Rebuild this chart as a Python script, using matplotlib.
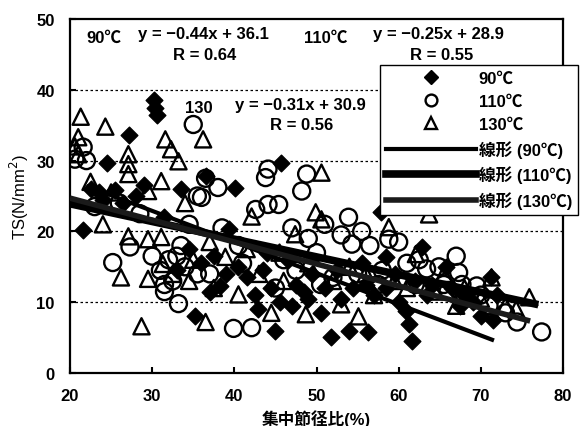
import matplotlib
matplotlib.use("Agg")
import matplotlib.pyplot as plt
from matplotlib.lines import Line2D
import numpy as np

plt.rcParams['font.family'] = ['Liberation Sans', 'Noto Sans CJK JP', 'DejaVu Sans']

# 90℃ specimens (集中節径比 %, TS N/mm2)
x90 = [21.6, 22.5, 23.5, 24.5, 24.0, 25.5, 26.5, 27.2, 28.0, 29.0, 30.2, 30.4, 30.6,
       31.5, 33.5, 34.5, 35.2, 36.5, 37.0, 37.5, 38.3, 39.3, 40.1, 40.5, 41.5, 42.5,
       42.9, 43.5, 44.5, 45.0, 45.5, 45.7, 46.5, 47.5, 48.5, 49.5, 50.5, 51.0, 51.8,
       52.5, 53.9, 54.5, 55.5, 56.3, 57.0, 57.8, 58.4, 59.5, 60.9, 61.2, 61.6, 62.0,
       62.8, 63.5, 65.7, 66.5, 67.5, 69.0, 70.0, 71.2, 71.5, 72.0,
       33.0, 36.0, 39.0, 44.0, 47.0, 49.0, 53.0, 56.0, 58.5, 60.0, 64.0, 68.0]
y90 = [20.2, 26.0, 25.5, 29.6, 24.5, 25.8, 24.0, 33.6, 25.0, 26.5, 38.5, 37.5, 36.5,
       22.0, 26.0, 17.5, 8.0, 27.8, 11.4, 16.5, 12.3, 20.3, 26.2, 15.0, 13.5, 11.0,
       9.0, 14.5, 12.0, 6.0, 10.0, 29.6, 16.0, 12.5, 11.5, 14.0, 8.5, 12.0, 5.1,
       14.5, 5.9, 12.0, 15.5, 5.8, 11.0, 22.7, 16.4, 14.0, 8.7, 6.9, 4.5, 13.0,
       17.8, 11.0, 15.0, 12.0, 9.5, 10.0, 8.0, 13.5, 7.5, 11.0,
       14.5, 15.5, 14.0, 17.0, 9.5, 10.5, 10.5, 12.5, 12.0, 10.0, 12.5, 11.0]

# 110℃ specimens
x110 = [20.6, 21.6, 22.0, 23.0, 25.2, 26.0, 27.3, 28.5, 30.0, 31.0, 31.5, 32.0, 32.5,
        33.2, 33.5, 34.0, 34.5, 35.0, 35.5, 36.0, 36.5, 37.0, 38.0, 38.5, 39.9, 40.5,
        42.1, 42.6, 43.8, 44.1, 44.1, 45.4, 46.0, 47.0, 48.2, 48.8, 49.0, 50.0, 51.0,
        52.0, 53.0, 53.9, 54.3, 55.0, 56.5, 57.5, 58.8, 60.0, 61.0, 62.0, 63.4, 64.9,
        66.0, 67.0, 67.3, 67.7, 67.6, 69.5, 71.0, 73.0, 74.4, 77.4,
        31.5, 33.0, 35.5, 41.0, 45.0, 47.5, 50.5, 55.5, 58.0, 62.5, 65.5, 70.0]
y110 = [30.2, 31.9, 30.0, 23.5, 15.6, 24.0, 17.8, 22.5, 16.5, 14.5, 11.5, 16.0, 13.0,
        9.8, 18.0, 15.0, 21.0, 35.1, 25.0, 24.8, 27.5, 14.0, 26.2, 20.5, 6.3, 18.0,
        6.4, 23.1, 27.6, 28.8, 23.8, 23.8, 16.0, 20.5, 25.7, 28.1, 19.0, 17.0, 21.0,
        13.5, 19.5, 22.0, 18.2, 14.0, 18.0, 12.5, 18.9, 18.5, 15.5, 12.5, 14.7, 15.0,
        11.5, 16.5, 14.2, 12.5, 11.1, 12.3, 9.5, 8.5, 7.2, 5.8,
        12.5, 16.5, 14.0, 15.5, 12.0, 14.5, 12.5, 20.0, 14.5, 16.0, 12.5, 11.0]

# 130℃ specimens
x130 = [20.6, 21.0, 21.0, 21.3, 22.5, 24.0, 24.3, 25.0, 26.2, 27.1, 27.1, 27.1, 27.1,
        28.7, 29.5, 29.5, 29.5, 31.1, 31.1, 31.3, 31.6, 32.3, 33.2, 34.0, 35.0, 36.2,
        36.5, 37.0, 38.9, 40.5, 42.1, 43.0, 44.5, 45.5, 47.4, 48.7, 49.9, 50.6, 50.6,
        52.0, 53.0, 55.1, 56.0, 58.8, 59.5, 62.1, 63.7, 64.5, 65.5, 68.0, 70.0, 71.3,
        73.0, 74.3, 75.9,
        32.5, 34.5, 37.5, 41.5, 46.0, 49.0, 54.0, 57.0, 61.0, 67.0]
y130 = [32.0, 33.3, 30.9, 36.2, 27.0, 21.0, 34.8, 25.5, 13.5, 30.9, 29.5, 28.1, 19.3,
        6.6, 25.7, 18.9, 13.3, 27.1, 19.2, 15.4, 33.0, 31.6, 29.9, 24.0, 16.0, 33.0,
        7.2, 18.5, 16.4, 11.1, 22.1, 14.0, 8.5, 17.0, 19.6, 8.3, 22.7, 28.3, 21.7,
        13.0, 9.7, 8.0, 14.0, 20.6, 13.0, 16.8, 22.4, 11.5, 14.0, 12.0, 10.5, 13.5,
        9.5, 9.0, 10.7,
        14.0, 13.0, 12.0, 17.5, 13.0, 15.5, 15.0, 11.0, 12.0, 9.5]

# linear fits (slope, intercept, x-range)
fit90 = (-0.44, 36.1, 22.0, 71.6)
fit110 = (-0.25, 28.9, 20.0, 77.0)
fit130 = (-0.31, 30.9, 20.0, 76.0)

x_ticks = [20, 30, 40, 50, 60, 70, 80]
y_ticks = [0, 10, 20, 30, 40, 50]

fig = plt.figure(figsize=(5.86, 4.27), dpi=100)
ax = fig.add_axes([70/586, 1-374/427, (563-70)/586, (374-20)/427])

ax.set_xlim(20, 80)
ax.set_ylim(0, 50)

for yv in [10, 20, 30, 40]:
    ax.axhline(yv, color='black', lw=0.9, ls=(0, (2, 2)), zorder=0)

ax.scatter(x90, y90, marker='D', s=72, facecolor='black', edgecolor='black', lw=1, zorder=3)
ax.scatter(x110, y110, marker='o', s=150, facecolor='none', edgecolor='black', lw=1.7, zorder=3)
ax.scatter(x130, y130, marker='^', s=135, facecolor='none', edgecolor='black', lw=1.7, zorder=3)

def draw_fit(fit, lw, color):
    a, b, x0, x1 = fit
    xs = np.array([x0, x1])
    ax.plot(xs, a * xs + b, color=color, lw=lw, solid_capstyle='butt', zorder=4)

draw_fit(fit90, 3.0, 'black')
draw_fit(fit110, 5.5, 'black')
draw_fit(fit130, 4.0, '#1a1a1a')

ax.set_xticks(x_ticks)
ax.set_yticks(y_ticks)
ax.tick_params(direction='in', length=4, width=1.5, labelsize=12, pad=11)
for lab in ax.get_xticklabels() + ax.get_yticklabels():
    lab.set_fontweight('bold')
for sp in ax.spines.values():
    sp.set_linewidth(1.6)

ax.set_ylabel('TS(N/mm$^2$)', fontsize=12, labelpad=4)
ax.set_xlabel('集中節径比(%)', fontsize=12, fontweight='bold', labelpad=4)

tk = dict(transform=fig.transFigure, fontsize=12, fontweight='bold', color='black')
fig.text(86/586, 1-43/427, '90℃', **tk)
fig.text(138/586, 1-39/427, 'y = −0.44x + 36.1', **tk)
fig.text(205/586, 1-60/427, 'R = 0.64', ha='center', **tk)
fig.text(304/586, 1-43/427, '110℃', **tk)
fig.text(373/586, 1-39/427, 'y = −0.25x + 28.9', **tk)
fig.text(442/586, 1-60/427, 'R = 0.55', ha='center', **tk)
fig.text(185/586, 1-113/427, '130', **tk)
fig.text(235/586, 1-110/427, 'y = −0.31x + 30.9', **tk)
fig.text(302/586, 1-130/427, 'R = 0.56', ha='center', **tk)

handles = [
    Line2D([], [], marker='D', ls='none', color='black', markersize=7.5),
    Line2D([], [], marker='o', ls='none', markerfacecolor='none', markeredgecolor='black',
           markeredgewidth=1.7, markersize=8.5),
    Line2D([], [], marker='^', ls='none', markerfacecolor='none', markeredgecolor='black',
           markeredgewidth=1.7, markersize=8.5),
    Line2D([], [], color='black', lw=3.0),
    Line2D([], [], color='black', lw=5.5),
    Line2D([], [], color='#1a1a1a', lw=4.0),
]
labels = ['90℃', '110℃', '130℃', '線形 (90℃)', '線形 (110℃)', '線形 (130℃)']
leg = fig.legend(handles, labels, loc='upper right',
                 bbox_to_anchor=(578/586, 1-66/427), bbox_transform=fig.transFigure,
                 fancybox=False, framealpha=1, edgecolor='black', handlelength=5.4,
                 handletextpad=0.15, labelspacing=0.48, borderpad=0.35, borderaxespad=0,
                 prop={'size': 12, 'weight': 'bold'})
leg.get_frame().set_linewidth(1.0)

fig.savefig('out.png', dpi=100)
